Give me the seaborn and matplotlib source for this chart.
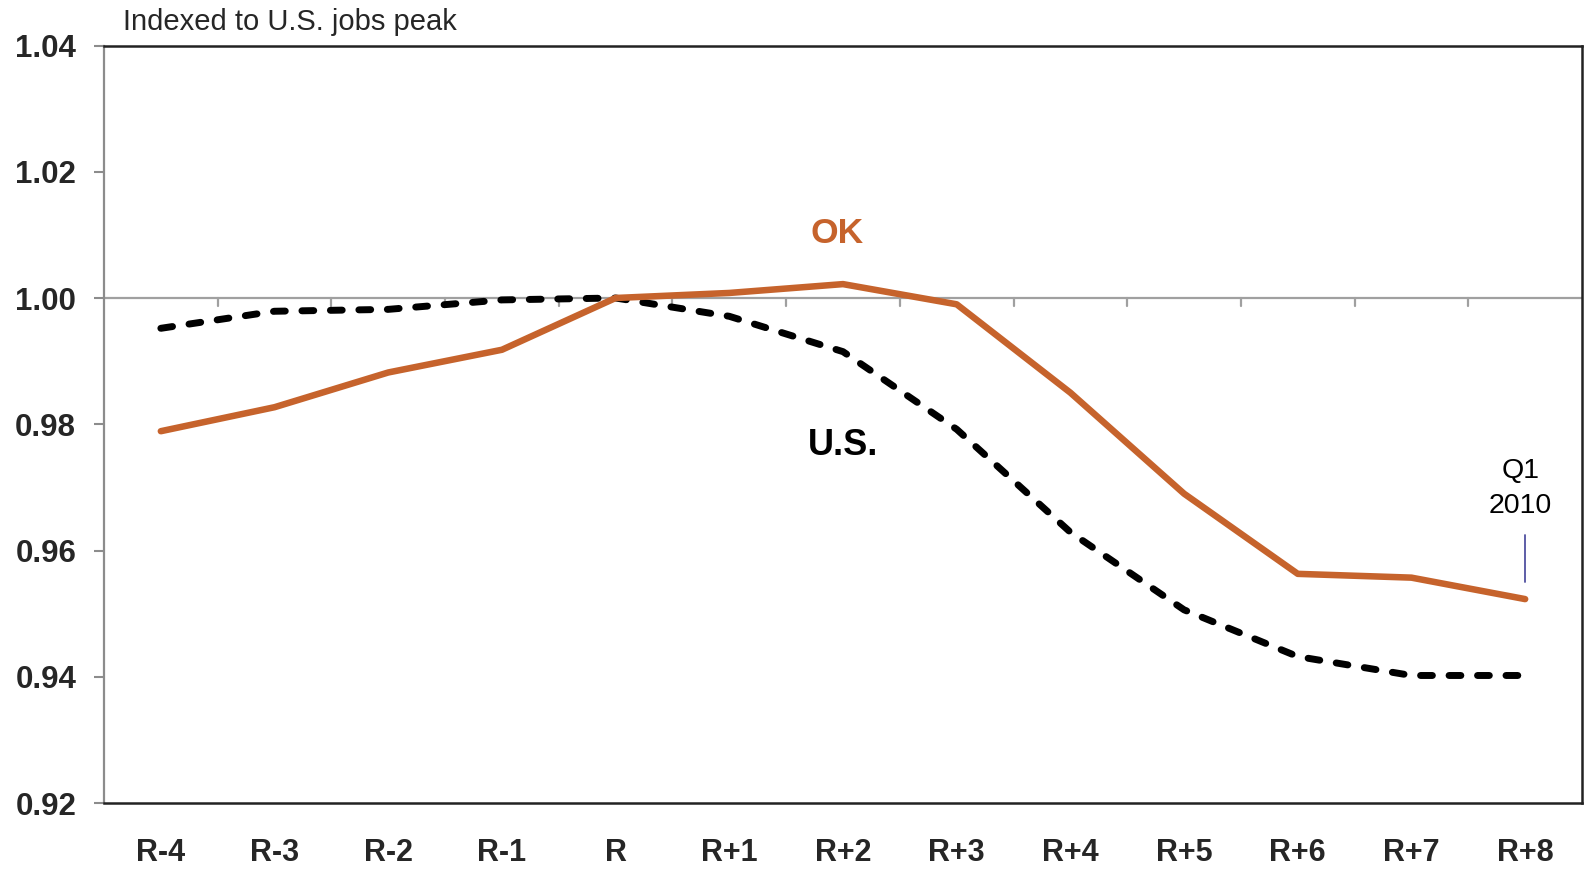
import matplotlib
matplotlib.use("Agg")
import matplotlib.pyplot as plt
import seaborn as sns
import pandas as pd
import numpy as np

periods = ["R-4", "R-3", "R-2", "R-1", "R", "R+1", "R+2", "R+3", "R+4", "R+5", "R+6", "R+7", "R+8"]
ok_values = [0.9789, 0.9827, 0.9882, 0.9918, 1.0000, 1.0008, 1.0022, 0.9990, 0.9850, 0.9690, 0.9563, 0.9557, 0.9523]
us_values = [0.9952, 0.9979, 0.9982, 0.9997, 1.0000, 0.9971, 0.9915, 0.9792, 0.9629, 0.9506, 0.9432, 0.9402, 0.9402]
y_ticks = [0.92, 0.94, 0.96, 0.98, 1.00, 1.02, 1.04]

sns.set_theme(style="white")
plt.rcParams["font.family"] = ["Liberation Sans", "DejaVu Sans"]

df = pd.DataFrame({
    "period": periods * 2,
    "x": list(range(len(periods))) * 2,
    "value": ok_values + us_values,
    "series": ["OK"] * len(periods) + ["U.S."] * len(periods),
})

fig = plt.figure(figsize=(15.85, 8.72), dpi=100)
ax = fig.add_axes([104 / 1585, 1 - 803 / 872, (1582 - 104) / 1585, (803 - 45.5) / 872])

orange = "#C6632C"
ax.axhline(1.0, color="#A0A0A0", lw=1.6, zorder=1)
n = len(periods)
for b in np.arange(0.5, n - 0.5, 1.0):
    ax.plot([b, b], [1.0, 1.0 - 0.00125], color="#A0A0A0", lw=1.6, zorder=1)

sns.lineplot(data=df[df.series == "U.S."], x="x", y="value", ax=ax, color="black",
             lw=5.0, legend=False, zorder=3)
ax.lines[-1].set_dashes([1.7, 2.4])
ax.lines[-1].set_dash_capstyle("round")
sns.lineplot(data=df[df.series == "OK"], x="x", y="value", ax=ax, color=orange,
             lw=4.7, legend=False, zorder=4)
ax.lines[-1].set_solid_capstyle("round")

ax.set_xlim(-0.5, n - 0.5)
ax.set_ylim(0.92, 1.04)
ax.set_yticks(y_ticks)
ax.set_yticklabels([f"{v:.2f}" for v in y_ticks], fontsize=22.5, fontweight="bold")
ax.set_xticks(range(n))
ax.set_xticklabels(periods, fontsize=22, fontweight="bold")
ax.set_xlabel("")
ax.set_ylabel("")
ax.tick_params(axis="x", length=0, pad=25)
ax.tick_params(axis="y", length=7, width=1.5, color="#8C8C8C", pad=13, direction="out", left=True)

for side in ["top", "right", "bottom"]:
    ax.spines[side].set_color("#222222")
    ax.spines[side].set_linewidth(1.8)
ax.spines["left"].set_color("#8C8C8C")
ax.spines["left"].set_linewidth(1.6)

ax.text(5.947, 1.0087, "OK", color=orange, fontsize=25.5, fontweight="bold", ha="center", va="baseline")
ax.text(5.999, 0.9751, "U.S.", color="black", fontsize=26, fontweight="bold", ha="center", va="baseline")
ax.text(11.96, 0.97149, "Q1", color="black", fontsize=20.5, ha="center", va="baseline")
ax.text(11.96, 0.96594, "2010", color="black", fontsize=20.5, ha="center", va="baseline")
ax.plot([12.0, 12.0], [0.9625, 0.9550], color="#5050A0", lw=1.3, zorder=5)

fig.text(123 / 1585, 1 - 30 / 872, "Indexed to U.S. jobs peak", fontsize=21, ha="left", va="baseline")

fig.savefig("out.png", dpi=100)
